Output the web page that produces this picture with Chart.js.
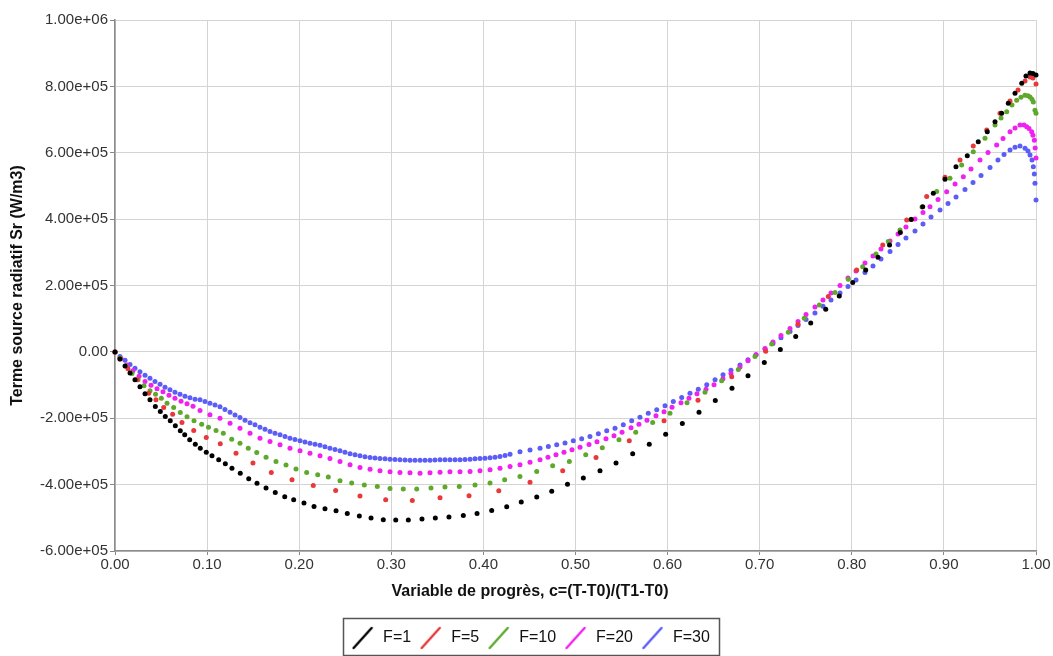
<!DOCTYPE html>
<html>
<head>
<meta charset="utf-8">
<script src="https://cdn.jsdelivr.net/npm/chart.js@4.4.1/dist/chart.umd.min.js"></script>
<style>
html, body { margin: 0; padding: 0; background: #fff; }
</style>
</head>
<body>
<canvas id="myChart" width="1053" height="656"></canvas>
<script>
// progress variable c and radiative source term Sr (W/m3) for each F
const f1C = [
  0, 0.0054, 0.0109, 0.0163, 0.0217, 0.0271, 0.0326, 0.0380, 0.0438, 0.0492,
  0.0546, 0.0600, 0.0655, 0.0709, 0.0757, 0.0811, 0.0872, 0.0926, 0.0991, 0.1053,
  0.1126, 0.1198, 0.1270, 0.1360, 0.1452, 0.1542, 0.1640, 0.1740, 0.1843, 0.1940,
  0.2052, 0.2161, 0.2280, 0.2400, 0.2522, 0.2653, 0.2780, 0.2913, 0.3048, 0.3185,
  0.3333, 0.3478, 0.3626, 0.3782, 0.3931, 0.4090, 0.4253, 0.4411, 0.4579, 0.4742,
  0.4913, 0.5085, 0.5266, 0.5440, 0.5621, 0.5801, 0.5979, 0.6160, 0.6341, 0.6518,
  0.6699, 0.6873, 0.7050, 0.7224, 0.7391, 0.7554, 0.7717, 0.7864, 0.8010, 0.8151,
  0.8284, 0.8410, 0.8527, 0.8646, 0.8770, 0.8885, 0.9012, 0.9131, 0.9254, 0.9373,
  0.9471, 0.9555, 0.9627, 0.9699, 0.9772, 0.9845, 0.9891, 0.9935, 0.9967, 1.0
];
const f1Sr = [
  0, -21100, -42200, -63300, -84300, -105400, -126500, -144600, -164800, -179800,
  -194900, -207800, -222900, -237900, -250000, -265100, -278000, -290100, -302100, -313200,
  -325300, -337300, -350300, -365400, -382500, -395500, -410500, -423800, -436700, -445800,
  -455700, -466000, -472900, -478900, -487000, -494900, -500900, -506000, -506900, -506900,
  -503900, -500900, -497900, -493100, -487000, -478000, -466900, -452700, -437600, -419600,
  -399100, -380400, -358400, -335200, -307200, -278000, -247900, -216000, -181600, -146700,
  -109300, -72300, -32200, 6900, 46700, 87300, 128600, 168700, 208700, 247000,
  285200, 322300, 359900, 398500, 437600, 478000, 520200, 558100, 591300, 633400,
  663500, 693700, 719000, 749100, 779200, 809300, 831300, 840300, 838800, 834300
];

const f5C = [
  0, 0.0054, 0.0141, 0.0239, 0.0366, 0.0445, 0.0529, 0.0626, 0.0727, 0.0855,
  0.0991, 0.1143, 0.1314, 0.1498, 0.1697, 0.1922, 0.2153, 0.2396, 0.2660, 0.2939,
  0.3228, 0.3529, 0.3844, 0.4167, 0.4506, 0.4861, 0.5223, 0.5584, 0.5961, 0.6330,
  0.6696, 0.7065, 0.7416, 0.7745, 0.8053, 0.8336, 0.8596, 0.8813, 0.9012, 0.9175,
  0.9319, 0.9465, 0.9609, 0.9718, 0.9805, 0.9881, 0.9935, 0.9967, 1.0
];
const f5Sr = [
  0, -21100, -51200, -84300, -124400, -144600, -167800, -187600, -212900, -237000,
  -258100, -277100, -305100, -335200, -363500, -385500, -402700, -417800, -434600, -445800,
  -447900, -439800, -433700, -418700, -392500, -358400, -318400, -268100, -207800, -146100,
  -75300, 2100, 83400, 166600, 247000, 322300, 397600, 467800, 526200, 578300,
  620500, 668700, 719000, 756000, 789100, 816300, 828300, 825300, 807200
];

const f10C = [
  0, 0.0054, 0.0119, 0.0185, 0.0250, 0.0315, 0.0380, 0.0440, 0.0503, 0.0565,
  0.0637, 0.0709, 0.0782, 0.0858, 0.0941, 0.1015, 0.1097, 0.1176, 0.1267, 0.1357,
  0.1447, 0.1539, 0.1640, 0.1748, 0.1857, 0.1965, 0.2081, 0.2201, 0.2316, 0.2443,
  0.2570, 0.2707, 0.2848, 0.2986, 0.3130, 0.3276, 0.3431, 0.3583, 0.3738, 0.3909,
  0.4072, 0.4231, 0.4397, 0.4579, 0.4752, 0.4933, 0.5111, 0.5291, 0.5472, 0.5654,
  0.5838, 0.6026, 0.6211, 0.6406, 0.6587, 0.6768, 0.6949, 0.7130, 0.7311, 0.7484,
  0.7647, 0.7818, 0.7962, 0.8118, 0.8263, 0.8396, 0.8523, 0.8643, 0.8762, 0.8922,
  0.9066, 0.9193, 0.9319, 0.9446, 0.9555, 0.9620, 0.9682, 0.9739, 0.9790, 0.9837,
  0.9880, 0.9913, 0.9935, 0.9957, 0.9971, 0.9989, 1.0
];
const f10Sr = [
  0, -18100, -42200, -64800, -84300, -102400, -117500, -128000, -139500, -154600,
  -167800, -182900, -195800, -207800, -217800, -227400, -237000, -244900, -263000, -275000,
  -290100, -303300, -317200, -330200, -341100, -353100, -363300, -370300, -377200, -388300,
  -395300, -401300, -405500, -411500, -413300, -413300, -410300, -407300, -405500, -401300,
  -395300, -385400, -375500, -360400, -343300, -330300, -310200, -289200, -265100, -241900,
  -213000, -184700, -153600, -121400, -87300, -53300, -13600, 24100, 59300, 101500,
  141600, 178600, 218700, 256700, 295200, 332300, 367500, 399700, 436700, 482900,
  523000, 563100, 603300, 643400, 683700, 704800, 723800, 743900, 758100, 767100,
  773100, 771600, 768100, 761200, 753000, 728100, 719000
];

const f20C = [
  0, 0.0065, 0.0130, 0.0195, 0.0261, 0.0326, 0.0391, 0.0456, 0.0521, 0.0586,
  0.0651, 0.0717, 0.0782, 0.0847, 0.0923, 0.1031, 0.1140, 0.1249, 0.1357, 0.1466,
  0.1574, 0.1683, 0.1792, 0.1900, 0.2009, 0.2117, 0.2226, 0.2334, 0.2443, 0.2552,
  0.2660, 0.2769, 0.2877, 0.2986, 0.3094, 0.3203, 0.3312, 0.3420, 0.3529, 0.3637,
  0.3746, 0.3855, 0.3963, 0.4072, 0.4180, 0.4289, 0.4397, 0.4506, 0.4615, 0.4701,
  0.4788, 0.4875, 0.4962, 0.5049, 0.5147, 0.5233, 0.5331, 0.5418, 0.5505, 0.5603,
  0.5689, 0.5776, 0.5874, 0.5961, 0.6048, 0.6145, 0.6232, 0.6319, 0.6417, 0.6504,
  0.6601, 0.6688, 0.6786, 0.6873, 0.6960, 0.7058, 0.7144, 0.7231, 0.7329, 0.7416,
  0.7503, 0.7600, 0.7687, 0.7774, 0.7872, 0.7959, 0.8046, 0.8143, 0.8230, 0.8317,
  0.8415, 0.8502, 0.8588, 0.8686, 0.8773, 0.8849, 0.8936, 0.9030, 0.9121, 0.9211,
  0.9294, 0.9392, 0.9479, 0.9573, 0.9642, 0.9718, 0.9772, 0.9826, 0.9870, 0.9899,
  0.9924, 0.9953, 0.9967, 0.9982, 0.9991, 1.0
];
const f20Sr = [
  0, -19600, -39200, -57200, -73800, -88900, -100900, -111400, -120500, -131000,
  -140100, -149100, -156600, -164200, -176800, -189800, -199800, -214800, -229900, -244900,
  -259900, -270100, -280100, -290100, -298200, -305100, -313200, -321300, -330300, -340400,
  -348400, -353300, -358400, -361400, -363500, -364500, -365500, -364500, -362400, -361400,
  -361400, -360400, -358400, -355400, -350300, -345500, -340400, -332800, -325300, -317800,
  -310200, -302700, -295200, -287600, -279200, -271100, -262000, -253000, -242500, -228900,
  -218400, -206300, -192800, -180700, -167200, -153600, -140100, -126500, -112900, -99400,
  -81300, -64800, -45200, -27100, -9000, 10500, 30100, 49700, 70800, 91900,
  112900, 135500, 156600, 177700, 200300, 222900, 243900, 268100, 289100, 310200,
  334300, 355400, 376500, 400600, 420100, 437600, 459300, 482800, 506000, 528000,
  551200, 578300, 600900, 623500, 643000, 663200, 674400, 683400, 683400, 678400,
  673000, 663200, 653100, 638000, 614000, 584300
];

const f30C = [
  0, 0.0054, 0.0109, 0.0163, 0.0217, 0.0271, 0.0326, 0.0380, 0.0434, 0.0489,
  0.0543, 0.0597, 0.0651, 0.0706, 0.0760, 0.0814, 0.0869, 0.0923, 0.0977, 0.1031,
  0.1086, 0.1140, 0.1194, 0.1249, 0.1303, 0.1357, 0.1412, 0.1466, 0.1520, 0.1574,
  0.1629, 0.1683, 0.1737, 0.1792, 0.1846, 0.1900, 0.1954, 0.2009, 0.2063, 0.2117,
  0.2172, 0.2226, 0.2280, 0.2334, 0.2389, 0.2443, 0.2497, 0.2552, 0.2606, 0.2660,
  0.2714, 0.2769, 0.2823, 0.2877, 0.2932, 0.2986, 0.3040, 0.3094, 0.3149, 0.3203,
  0.3257, 0.3312, 0.3366, 0.3420, 0.3474, 0.3529, 0.3583, 0.3637, 0.3692, 0.3746,
  0.3800, 0.3855, 0.3909, 0.3963, 0.4017, 0.4072, 0.4126, 0.4180, 0.4235, 0.4289,
  0.4397, 0.4506, 0.4615, 0.4705, 0.4796, 0.4886, 0.4976, 0.5067, 0.5157, 0.5248,
  0.5339, 0.5429, 0.5519, 0.5610, 0.5700, 0.5790, 0.5882, 0.5972, 0.6062, 0.6153,
  0.6243, 0.6333, 0.6425, 0.6515, 0.6602, 0.6688, 0.6786, 0.6873, 0.6960, 0.7058,
  0.7144, 0.7231, 0.7329, 0.7416, 0.7503, 0.7600, 0.7687, 0.7774, 0.7872, 0.7959,
  0.8046, 0.8143, 0.8230, 0.8317, 0.8415, 0.8502, 0.8588, 0.8686, 0.8773, 0.8860,
  0.8958, 0.9045, 0.9132, 0.9229, 0.9316, 0.9403, 0.9501, 0.9587, 0.9653, 0.9718,
  0.9772, 0.9826, 0.9881, 0.9913, 0.9935, 0.9957, 0.9971, 0.9982, 0.9989, 1.0
];
const f30Sr = [
  0, -13600, -25600, -37700, -49700, -60200, -70800, -79800, -88900, -97900,
  -106900, -114500, -122000, -128000, -134000, -138600, -142500, -144600, -149700, -154800,
  -159900, -165000, -173500, -181900, -190100, -198100, -205700, -213300, -219900, -226800,
  -233400, -240000, -244900, -250000, -255100, -259900, -264000, -268100, -271700, -275000,
  -278000, -281000, -285600, -290100, -294000, -298200, -302700, -307200, -310200, -313200,
  -315700, -318300, -319800, -321400, -322300, -323200, -324400, -325300, -325800, -326200,
  -326200, -326200, -326200, -326200, -325800, -325300, -325300, -325300, -325300, -325300,
  -324300, -323200, -322300, -321400, -320300, -319300, -317200, -315400, -312200, -308800,
  -301200, -295800, -290100, -285100, -280000, -274900, -268100, -262000, -255100, -246900,
  -237900, -229900, -219900, -207800, -196700, -184700, -174700, -162600, -149700, -137600,
  -124400, -112300, -99400, -84300, -69300, -55700, -39200, -24100, -9000, 9000,
  25600, 42200, 61700, 79800, 97900, 117500, 137100, 156600, 177700, 197200,
  216800, 239400, 259000, 280100, 302700, 323700, 343300, 364400, 385500, 406600,
  427700, 447200, 466800, 489400, 510500, 531600, 555700, 578300, 594800, 608400,
  616500, 620400, 613500, 605400, 593400, 578300, 558100, 536100, 507900, 457800
];

const seriesLabels = ['F=1', 'F=5', 'F=10', 'F=20', 'F=30'];
const seriesColors = ['#000000', '#e8383a', '#5ea82c', '#f020f0', '#5c5cf6'];
const seriesC = [f1C, f5C, f10C, f20C, f30C];
const seriesSr = [f1Sr, f5Sr, f10Sr, f20Sr, f30Sr];

const xTicks = [0, 0.1, 0.2, 0.3, 0.4, 0.5, 0.6, 0.7, 0.8, 0.9, 1.0];
const yTicks = [-600000, -400000, -200000, 0, 200000, 400000, 600000, 800000, 1000000];

const FONT = "'Liberation Sans', Arial, Helvetica, sans-serif";
Chart.defaults.font.family = FONT;

function sciLabel(v) {
  if (v === 0) return '0.00';
  const e = Math.floor(Math.log10(Math.abs(v)) + 1e-9);
  const m = v / Math.pow(10, e);
  return m.toFixed(2) + 'e' + (e < 0 ? '-' : '+') + String(Math.abs(e)).padStart(2, '0');
}

// little diagonal stroke used as legend symbol
function slashIcon(color) {
  const c = document.createElement('canvas');
  c.width = 22; c.height = 24;
  const g = c.getContext('2d');
  g.strokeStyle = color;
  g.lineWidth = 2.4;
  g.lineCap = 'round';
  g.beginPath();
  g.moveTo(2, 22);
  g.lineTo(20, 2);
  g.stroke();
  return c;
}

const datasets = seriesLabels.map((label, i) => ({
  label: label,
  data: seriesC[i].map((c, j) => ({ x: c, y: seriesSr[i][j] })),
  backgroundColor: seriesColors[i],
  borderColor: seriesColors[i],
  pointRadius: 2.5,
  pointBorderWidth: 0,
  pointHoverRadius: 2.5,
  showLine: false,
  clip: false
}));

const legendBox = {
  id: 'legendBox',
  afterDraw(chart) {
    const hb = chart.legend.legendHitBoxes;
    if (!hb || !hb.length) return;
    const last = hb[hb.length - 1];
    const l = Math.round(hb[0].left) - 6.5;
    const r = Math.round(last.left + last.width) + 9.5;
    const t = Math.round(hb[0].top) - 11.5;
    const b = Math.round(hb[0].top) + 25.5;
    const ctx = chart.ctx;
    ctx.save();
    ctx.strokeStyle = '#555';
    ctx.lineWidth = 1.5;
    ctx.strokeRect(l, t, r - l, b - t);
    ctx.restore();
  }
};

new Chart(document.getElementById('myChart').getContext('2d'), {
  type: 'scatter',
  data: { datasets: datasets },
  options: {
    responsive: false,
    animation: false,
    layout: { padding: { top: 20, right: 0, left: 7, bottom: 0 } },
    scales: {
      x: {
        type: 'linear',
        min: 0,
        max: 1,
        afterFit: (s) => { s.height = 28; },
        afterBuildTicks: (s) => { s.ticks = xTicks.map(v => ({ value: v })); },
        ticks: {
          callback: (v) => Number(v).toFixed(2),
          font: { size: 15 },
          color: '#333',
          padding: 1,
          maxRotation: 0
        },
        grid: { color: '#d4d4d4', tickColor: '#888', tickLength: 4, lineWidth: 1 },
        border: { color: '#8a8a8a', width: 1.5 }
      },
      y: {
        type: 'linear',
        min: -600000,
        max: 1000000,
        afterFit: (s) => { s.width = 108; },
        afterBuildTicks: (s) => { s.ticks = yTicks.map(v => ({ value: v })); },
        ticks: {
          callback: (v) => sciLabel(v),
          font: { size: 15 },
          color: '#333',
          padding: 2
        },
        grid: { color: '#d4d4d4', tickColor: '#888', tickLength: 5, lineWidth: 1 },
        border: { color: '#8a8a8a', width: 1.5 },
        title: {
          display: true,
          text: 'Terme source radiatif Sr (W/m3)',
          font: { size: 16, weight: 'bold' },
          color: '#111',
          padding: { top: 0.5, bottom: 0 }
        }
      },
      // empty right-hand strip so the plot ends at the same place as the original
      yRight: {
        type: 'linear',
        position: 'right',
        min: -600000,
        max: 1000000,
        afterFit: (s) => { s.width = 17; },
        ticks: { display: false },
        grid: { display: false, drawOnChartArea: false },
        border: { display: false }
      }
    },
    plugins: {
      tooltip: { enabled: false },
      title: {
        display: true,
        position: 'bottom',
        weight: 500,
        text: 'Variable de progrès, c=(T-T0)/(T1-T0)',
        font: { size: 16, weight: 'bold' },
        color: '#111',
        padding: { top: 3.4, bottom: 21.4 }
      },
      legend: {
        position: 'bottom',
        weight: 1000,
        labels: {
          usePointStyle: true,
          pointStyleWidth: 25,
          padding: 7,
          color: '#111',
          font: { size: 16 },
          generateLabels: (chart) => chart.data.datasets.map((ds, i) => ({
            text: ds.label,
            fillStyle: ds.backgroundColor,
            strokeStyle: ds.backgroundColor,
            lineWidth: 0,
            pointStyle: slashIcon(ds.backgroundColor),
            hidden: false,
            datasetIndex: i,
            fontColor: '#111'
          }))
        }
      }
    }
  },
  plugins: [legendBox]
});
</script>
</body>
</html>
